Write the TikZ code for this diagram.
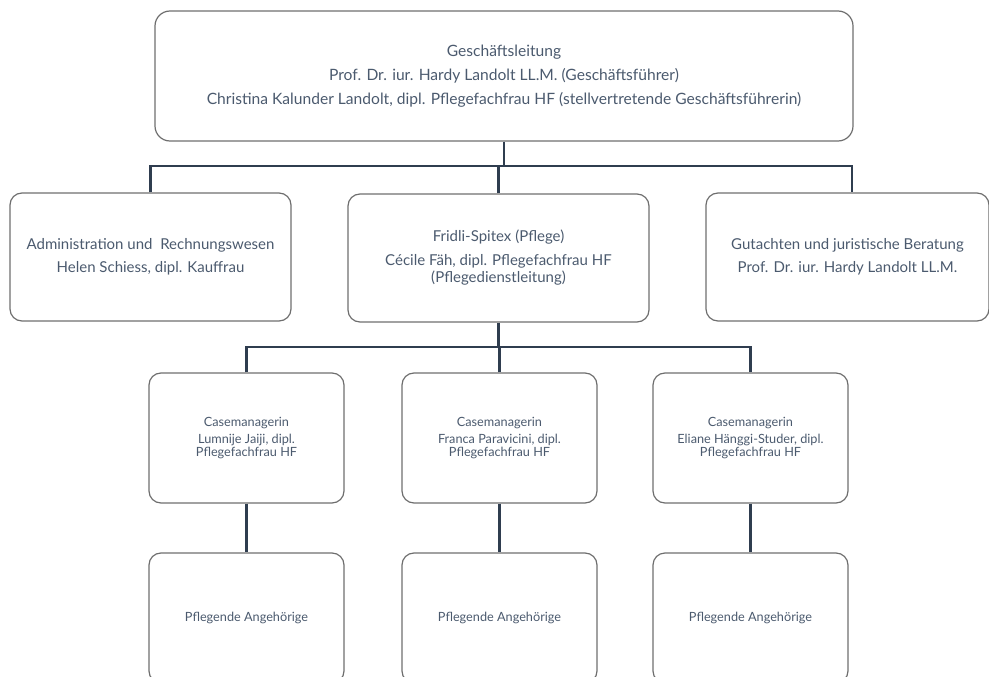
\documentclass[tikz,border=0pt]{standalone}
\usepackage{fontspec}
\setmainfont{Lato}
\definecolor{txt}{HTML}{4B5A6E}
\definecolor{boxline}{HTML}{6E6E6E}
\definecolor{conn}{HTML}{2F3D4F}
\begin{document}
\begin{tikzpicture}[x=1pt,y=-1pt,
  box/.style={draw=boxline, line width=1.2pt, rounded corners=12pt, text=txt, align=center, inner sep=0pt},
  bigbox/.style={box, font=\fontsize{15.6}{24}\selectfont},
  midbox/.style={box, font=\fontsize{15}{23}\selectfont},
  smallbox/.style={box, minimum width=195pt, minimum height=130pt, font=\fontsize{12.7}{12.5}\selectfont},
  connector/.style={draw=conn, line width=2.6pt}]
\useasboundingbox (0,0) rectangle (989,677);
\node[bigbox, minimum width=698pt, minimum height=130pt, rounded corners=15pt] (gl) at (504,76)
  {Geschäftsleitung\\Prof. Dr. iur. Hardy Landolt LL.M. (Geschäftsführer)\\Christina Kalunder Landolt, dipl. Pflegefachfrau HF (stellvertretende Geschäftsführerin)};
\node[midbox, minimum width=281pt, minimum height=128pt] (adm) at (150.5,257)
  {Administration und\ \ Rechnungswesen\\Helen Schiess, dipl. Kauffrau};
\node[midbox, minimum width=301pt, minimum height=128pt, font=\fontsize{15}{17}\selectfont] (pfl) at (498.5,258)
  {Fridli-Spitex (Pflege)\\[7pt]Cécile Fäh, dipl. Pflegefachfrau HF\\(Pflegedienstleitung)};
\node[midbox, minimum width=283pt, minimum height=128pt] (gut) at (847.5,257)
  {Gutachten und juristische Beratung\\Prof. Dr. iur. Hardy Landolt LL.M.};
\node[smallbox] (cm1) at (246.5,438) {Casemanagerin\\[5pt]Lumnije Jaiji, dipl.\\Pflegefachfrau HF};
\node[smallbox] (cm2) at (499.5,438) {Casemanagerin\\[5pt]Franca Paravicini, dipl.\\Pflegefachfrau HF};
\node[smallbox] (cm3) at (750.5,438) {Casemanagerin\\[5pt]Eliane Hänggi-Studer, dipl.\\Pflegefachfrau HF};
\node[smallbox] (pa1) at (246.5,618) {Pflegende Angehörige};
\node[smallbox] (pa2) at (499.5,618) {Pflegende Angehörige};
\node[smallbox] (pa3) at (750.5,618) {Pflegende Angehörige};
\coordinate (bus1) at (0,166);
\coordinate (bus2) at (0,347);
\draw[connector] (gl.south) -- (gl.south |- bus1);
\draw[connector] (adm.north) -- (adm.north |- bus1) -- ([xshift=4.5pt]gut.north |- bus1) -- ([xshift=4.5pt]gut.north);
\draw[connector] (pfl.north) -- (pfl.north |- bus1);
\draw[connector] (pfl.south) -- (pfl.south |- bus2);
\draw[connector] (cm1.north) -- (cm1.north |- bus2) -- (cm3.north |- bus2) -- (cm3.north);
\draw[connector] (cm2.north) -- (cm2.north |- bus2);
\draw[connector] (cm1.south) -- (pa1.north);
\draw[connector] (cm2.south) -- (pa2.north);
\draw[connector] (cm3.south) -- (pa3.north);
\end{tikzpicture}
\end{document}
